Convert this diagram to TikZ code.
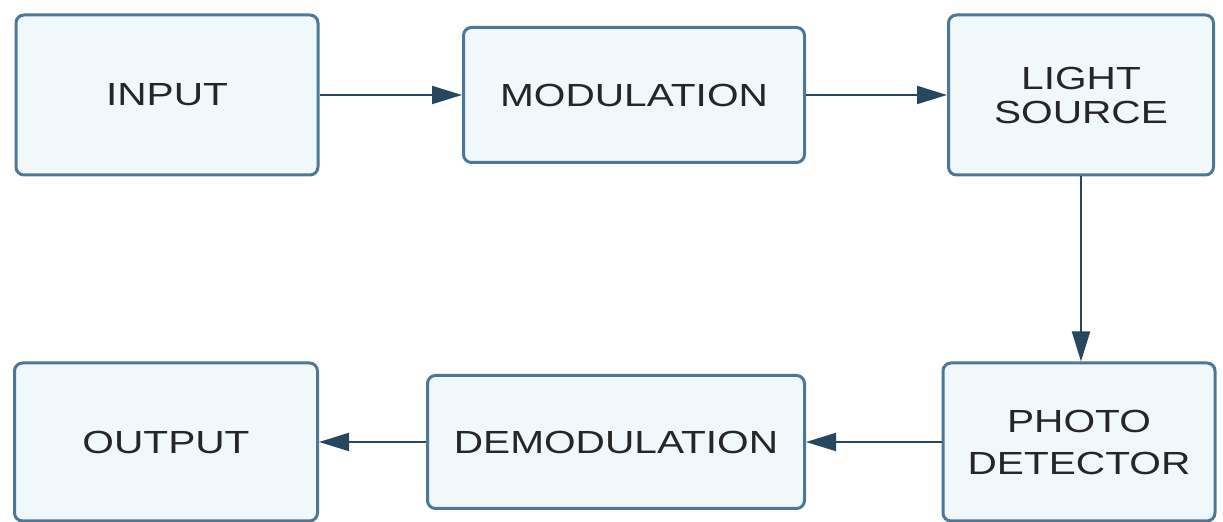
\documentclass[tikz,border=0pt]{standalone}
\usepackage{fontspec}
\setmainfont{Liberation Sans}[FakeStretch=1.27]
\usetikzlibrary{arrows.meta}
\definecolor{boxline}{HTML}{4E7797}
\definecolor{boxfill}{HTML}{F1F8FC}
\definecolor{arrline}{HTML}{27475F}
\begin{document}
\begin{tikzpicture}[x=0.5pt,y=-0.5pt,
  block/.style={draw=boxline,fill=boxfill,line width=1.5pt,rounded corners=4pt,
    align=center,inner sep=0pt,text=black!85,font=\fontsize{16}{17}\selectfont},
  flow/.style={draw=arrline,line width=1pt,-{Triangle[length=15pt,width=9pt]}}]
  \useasboundingbox (0,0) rectangle (1223,522);
  \node[block,minimum width=151pt,minimum height=80pt] (input) at (167,95) {INPUT};
  \node[block,minimum width=170.5pt,minimum height=67.5pt] (modul) at (634,95) {MODULATION};
  \node[block,minimum width=132.5pt,minimum height=80pt] (light) at (1081,95) {LIGHT\\SOURCE};
  \node[block,minimum width=136pt,minimum height=79pt] (photo) at (1079,442) {PHOTO\\[4pt]DETECTOR};
  \node[block,minimum width=188.5pt,minimum height=66.5pt] (demod) at (616,442) {DEMODULATION};
  \node[block,minimum width=151.5pt,minimum height=79pt] (output) at (166,442) {OUTPUT};
  \draw[flow] (input) -- (modul);
  \draw[flow] (modul) -- (light);
  \draw[flow] (light.south) -- (light.south |- photo.north);
  \draw[flow] (photo) -- (demod);
  \draw[flow] (demod) -- (output);
\end{tikzpicture}
\end{document}
